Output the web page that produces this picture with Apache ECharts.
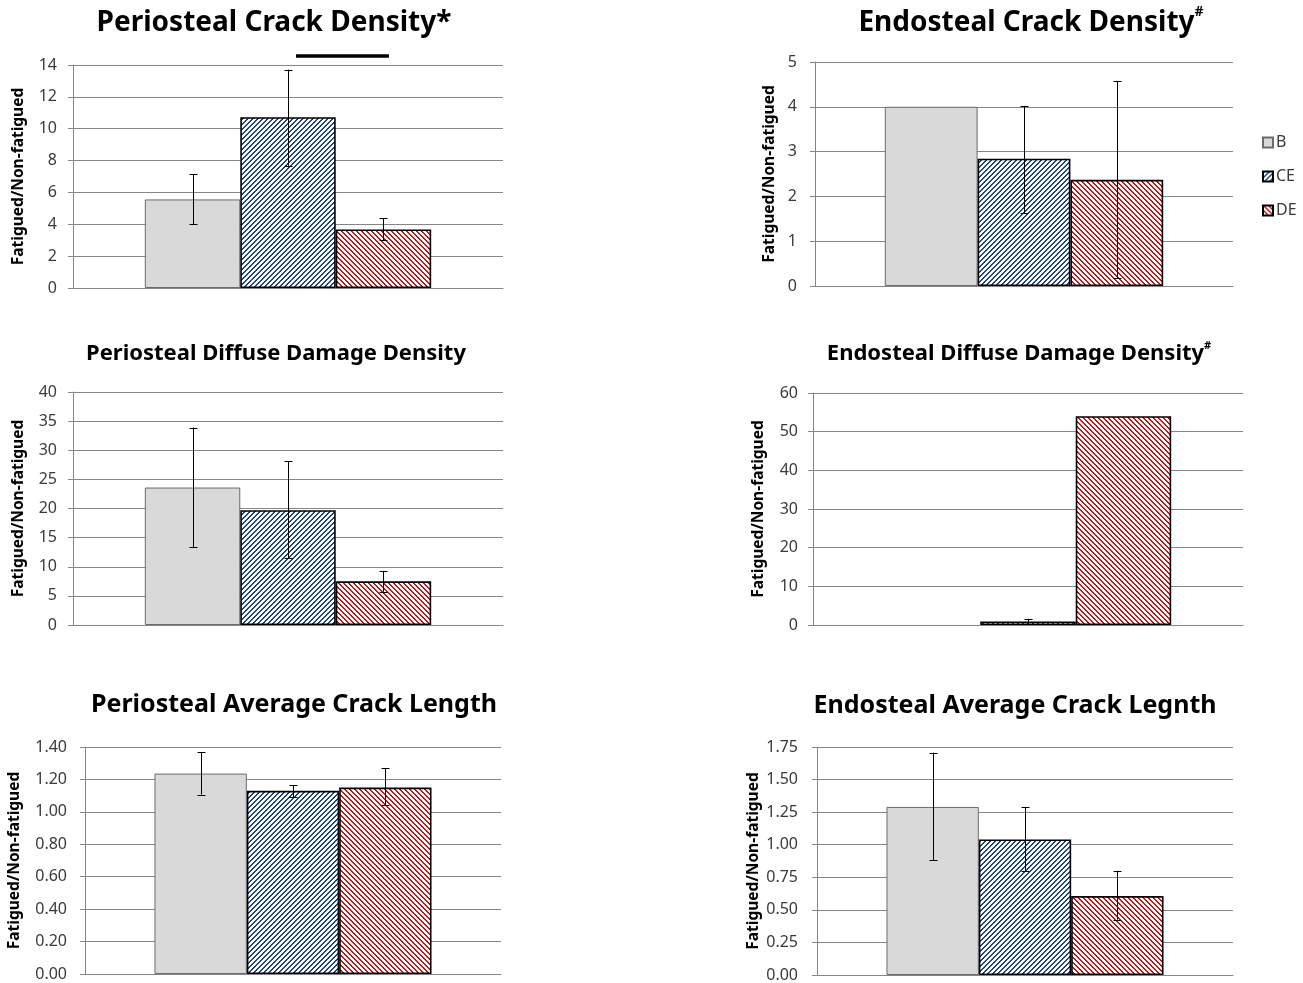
<!DOCTYPE html>
<html><head><meta charset="utf-8">
<script src="https://cdn.jsdelivr.net/npm/echarts@6/dist/echarts.min.js"></script>
<style>html,body{margin:0;padding:0;background:#fff}#c{width:1303px;height:983px}</style>
</head><body><div id="c"></div>
<script>
// ---------- data ----------
const groups = ['B', 'CE', 'DE'];

// Periosteal Crack Density
const pcdMean = [5.56, 10.72, 3.68];
const pcdLow  = [3.99, 7.67, 2.99];
const pcdHigh = [7.15, 13.71, 4.39];
// Endosteal Crack Density
const ecdMean = [4.0, 2.84, 2.37];
const ecdLow  = [null, 1.62, 0.17];
const ecdHigh = [null, 4.02, 4.57];
// Periosteal Diffuse Damage Density
const pddMean = [23.6, 19.7, 7.5];
const pddLow  = [13.4, 11.5, 5.7];
const pddHigh = [33.9, 28.1, 9.3];
// Endosteal Diffuse Damage Density
const eddMean = [null, 0.9, 54.0];
const eddLow  = [null, 0.2, null];
const eddHigh = [null, 1.6, null];
// Periosteal Average Crack Length
const pclMean = [1.236, 1.13, 1.15];
const pclLow  = [1.107, 1.089, 1.041];
const pclHigh = [1.369, 1.166, 1.27];
// Endosteal Average Crack Length
const eclMean = [1.29, 1.04, 0.606];
const eclLow  = [0.88, 0.80, 0.425];
const eclHigh = [1.707, 1.287, 0.80];

const panelTitles = [
  ['Periosteal Crack Density*', ''],
  ['Endosteal Crack Density', '#'],
  ['Periosteal Diffuse Damage Density', ''],
  ['Endosteal Diffuse Damage Density', '#'],
  ['Periosteal Average Crack Length', ''],
  ['Endosteal Average Crack Legnth', '']
];
const yMax = [14, 5, 40, 60, 1.4, 1.75];
const yStep = [2, 1, 5, 10, 0.2, 0.25];
const yName = 'Fatigued/Non-fatigued';

const panels = [
  [pcdMean, pcdLow, pcdHigh],
  [ecdMean, ecdLow, ecdHigh],
  [pddMean, pddLow, pddHigh],
  [eddMean, eddLow, eddHigh],
  [pclMean, pclLow, pclHigh],
  [eclMean, eclLow, eclHigh]
];

// ---------- layout ----------
const gridsPx = [
  {left: 73,  top: 65,  width: 430, height: 223},
  {left: 815, top: 62,  width: 418, height: 224},
  {left: 73,  top: 392, width: 430, height: 233},
  {left: 813, top: 393, width: 430, height: 232},
  {left: 85,  top: 747, width: 416, height: 227},
  {left: 817, top: 747, width: 416, height: 228}
];
const nameGaps = [46, 37, 46, 46, 62, 55];
const labelMargins = [16, 18, 16, 15, 18, 19];
const titlePos = [
  {cx: 274, cy: 23, fs: 28},
  {cx: 1031, cy: 23, fs: 28},
  {cx: 276, cy: 354, fs: 22},
  {cx: 1019, cy: 354, fs: 22},
  {cx: 294, cy: 705, fs: 25},
  {cx: 1015, cy: 706, fs: 25}
];
const FONT = '"Noto Sans", "Open Sans", sans-serif';
const CAT_GAP = 0.334;

function stripes(color, up) {
  const N = 5, k = 2;
  const c = document.createElement('canvas');
  c.width = N; c.height = N;
  const ctx = c.getContext('2d');
  const img = ctx.createImageData(N, N);
  const rgb = [parseInt(color.slice(1,3),16), parseInt(color.slice(3,5),16), parseInt(color.slice(5,7),16)];
  for (let y = 0; y < N; y++) for (let x = 0; x < N; x++) {
    const v = up ? (x + y) % N : (((x - y) % N) + N) % N;
    const i = (y * N + x) * 4;
    const on = v < k;
    img.data[i] = on ? rgb[0] : 255;
    img.data[i+1] = on ? rgb[1] : 255;
    img.data[i+2] = on ? rgb[2] : 255;
    img.data[i+3] = 255;
  }
  ctx.putImageData(img, 0, 0);
  return {image: c, repeat: 'repeat'};
}

const styles = [
  {color: '#D9D9D9', borderColor: '#6b6b6b', borderWidth: 1},
  {color: stripes('#1F4580', true), borderColor: '#000', borderWidth: 1.6},
  {color: stripes('#C81414', false), borderColor: '#000', borderWidth: 1.6}
];

const grid = [], xAxis = [], yAxis = [], series = [], title = [];
panels.forEach((p, gi) => {
  grid.push(Object.assign({containLabel: false}, gridsPx[gi]));
  xAxis.push({
    type: 'category', gridIndex: gi, data: [''],
    axisLine: {lineStyle: {color: '#868686', width: 1}},
    axisTick: {show: false}, axisLabel: {show: false}
  });
  yAxis.push({
    type: 'value', gridIndex: gi, min: 0, max: yMax[gi], interval: yStep[gi],
    name: yName, nameLocation: 'middle', nameGap: nameGaps[gi], nameRotate: 90,
    nameTextStyle: {fontFamily: FONT, fontWeight: 'bold', fontSize: 15.5, color: '#000'},
    axisLine: {show: true, lineStyle: {color: '#868686'}},
    axisTick: {show: true, length: 5, lineStyle: {color: '#868686'}},
    splitLine: {lineStyle: {color: '#868686', width: 1}},
    axisLabel: {
      fontFamily: FONT, fontSize: 16, color: '#3a3a3a', margin: labelMargins[gi],
      formatter: v => (gi >= 4 ? v.toFixed(2) : String(v))
    }
  });
  groups.forEach((g, si) => {
    series.push({
      type: 'bar', name: g, xAxisIndex: gi, yAxisIndex: gi,
      data: [p[0][si]], barGap: '0%', barCategoryGap: (CAT_GAP * 100) + '%',
      itemStyle: styles[si], emphasis: {disabled: true}, animation: false, z: 2
    });
  });
  const errData = [];
  groups.forEach((g, si) => {
    if (p[1][si] != null && p[2][si] != null) errData.push([0, p[1][si], p[2][si], si]);
  });
  series.push({
    type: 'custom', name: 'err' + gi, xAxisIndex: gi, yAxisIndex: gi, z: 5,
    data: errData, animation: false, silent: true,
    renderItem: (params, api) => {
      const lo = api.coord([api.value(0), api.value(1)]);
      const hi = api.coord([api.value(0), api.value(2)]);
      const band = api.size([1, 0])[0];
      const bw = band * (1 - CAT_GAP) / 3;
      const x = Math.round(lo[0] + (api.value(3) - 1) * bw) + 0.5;
      const cap = 4;
      const st = {stroke: '#000', lineWidth: 1};
      return {type: 'group', children: [
        {type: 'line', shape: {x1: x, y1: lo[1], x2: x, y2: hi[1]}, style: st},
        {type: 'line', shape: {x1: x - cap, y1: Math.round(lo[1]) + 0.5, x2: x + cap, y2: Math.round(lo[1]) + 0.5}, style: st},
        {type: 'line', shape: {x1: x - cap, y1: Math.round(hi[1]) + 0.5, x2: x + cap, y2: Math.round(hi[1]) + 0.5}, style: st}
      ]};
    }
  });
  const tp = titlePos[gi];
  const lh = Math.round(tp.fs * 1.25);
  title.push({
    text: '{m|' + panelTitles[gi][0] + '}' + (panelTitles[gi][1] ? '{s|' + panelTitles[gi][1] + '}' : ''),
    left: tp.cx, top: tp.cy - lh / 2, textAlign: 'center', padding: 0,
    textStyle: {
      rich: {
        m: {fontFamily: FONT, fontWeight: 'bold', fontSize: tp.fs, color: '#000', lineHeight: lh},
        s: {fontFamily: FONT, fontWeight: 'bold', fontSize: Math.round(tp.fs * 0.5), color: '#000', verticalAlign: 'top', lineHeight: lh, padding: [0, 0, Math.round(tp.fs * 0.55), 0]}
      }
    }
  });
});

const chart = echarts.init(document.getElementById('c'), null, {renderer: 'canvas'});
chart.setOption({
  animation: false,
  backgroundColor: '#fff',
  title: title,
  grid: grid, xAxis: xAxis, yAxis: yAxis, series: series,
  legend: {
    data: groups, orient: 'vertical', left: 1262, top: 132, padding: 0,
    icon: 'rect', itemWidth: 10, itemHeight: 10, itemGap: 13,
    textStyle: {fontFamily: FONT, fontSize: 16, color: '#3a3a3a', padding: [0, 0, 0, -2], lineHeight: 21},
    selectedMode: false
  },
  graphic: [{
    type: 'line', z: 10,
    shape: {x1: 296, y1: 56, x2: 389, y2: 56},
    style: {stroke: '#000', lineWidth: 3.5}
  }]
});
</script></body></html>
